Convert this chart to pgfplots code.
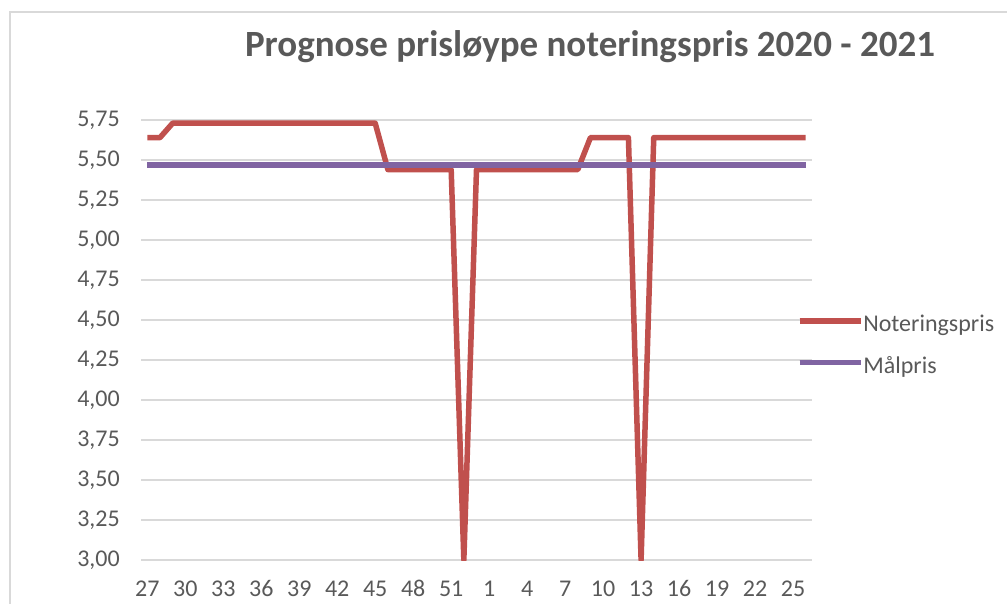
\documentclass[border=0pt]{standalone}
\usepackage{fontspec}
\setmainfont{Carlito}
\usepackage{pgfplots}
\pgfplotsset{compat=1.18}
\definecolor{nred}{RGB}{192,80,77}
\definecolor{mpurple}{RGB}{128,100,162}
\definecolor{txtgray}{RGB}{89,89,89}
\definecolor{gridgray}{RGB}{217,217,217}
\begin{document}
\begin{tikzpicture}[x=1pt,y=1pt]
\useasboundingbox (0,0) rectangle (1007,603);
\draw[gridgray, line width=2pt] (10,-2) -- (10,591) -- (1009,591);
\node[anchor=base, text=txtgray, font=\fontsize{37}{42}\selectfont\bfseries] at (590,546) {Prognose prisløype noteringspris 2020 - 2021};
\begin{axis}[
  at={(141pt,43pt)}, anchor=south west,
  scale only axis, width=671pt, height=440pt,
  xmin=-0.5, xmax=52.5, ymin=3, ymax=5.75,
  ytick={3,3.25,3.5,3.75,4,4.25,4.5,4.75,5,5.25,5.5,5.75},
  xtick={0,3,6,9,12,15,18,21,24,27,30,33,36,39,42,45,48,51},
  xticklabels={27,30,33,36,39,42,45,48,51,1,4,7,10,13,16,19,22,25},
  axis line style={draw=none},
  major tick length=0pt,
  ymajorgrids, grid style={gridgray, line width=1.6pt},
  tick label style={text=txtgray, font=\fontsize{24}{28}\selectfont},
  yticklabel style={inner sep=0pt, xshift=-21pt, /pgf/number format/.cd, fixed, fixed zerofill, precision=2, use comma, assume math mode=true},
  xticklabel style={inner sep=0pt, text height=16pt, text depth=0pt, anchor=north, yshift=-20pt},
  legend style={draw=none, fill=none, at={(0.977,0.557)}, anchor=north west, inner sep=0pt,
    row sep=23pt, font=\fontsize{24}{28}\selectfont, text=txtgray,
    nodes={inner sep=0pt}},
  legend cell align=left,
  legend image code/.code={\draw[#1, line width=5.5pt] (0pt,0.3em) -- (56pt,0.3em);
    \path (0pt,0.3em) -- (61pt,0.3em);},
]
\addplot[nred, line width=5.5pt, line join=round] coordinates {
(0,5.64) (1,5.64) (2,5.73) (3,5.73) (4,5.73) (5,5.73) (6,5.73) (7,5.73) (8,5.73) (9,5.73)
(10,5.73) (11,5.73) (12,5.73) (13,5.73) (14,5.73) (15,5.73) (16,5.73) (17,5.73) (18,5.73)
(19,5.44) (20,5.44) (21,5.44) (22,5.44) (23,5.44) (24,5.44) (25,3.00) (26,5.44) (27,5.44)
(28,5.44) (29,5.44) (30,5.44) (31,5.44) (32,5.44) (33,5.44) (34,5.44) (35,5.64) (36,5.64)
(37,5.64) (38,5.64) (39,3.00) (40,5.64) (41,5.64) (42,5.64) (43,5.64) (44,5.64) (45,5.64)
(46,5.64) (47,5.64) (48,5.64) (49,5.64) (50,5.64) (51,5.64) (52,5.64)};
\addlegendentry{Noteringspris}
\addplot[mpurple, line width=5.5pt, line join=round] coordinates {
(0,5.47) (1,5.47) (2,5.47) (3,5.47) (4,5.47) (5,5.47) (6,5.47) (7,5.47) (8,5.47) (9,5.47)
(10,5.47) (11,5.47) (12,5.47) (13,5.47) (14,5.47) (15,5.47) (16,5.47) (17,5.47) (18,5.47)
(19,5.47) (20,5.47) (21,5.47) (22,5.47) (23,5.47) (24,5.47) (25,5.47) (26,5.47) (27,5.47)
(28,5.47) (29,5.47) (30,5.47) (31,5.47) (32,5.47) (33,5.47) (34,5.47) (35,5.47) (36,5.47)
(37,5.47) (38,5.47) (39,5.47) (40,5.47) (41,5.47) (42,5.47) (43,5.47) (44,5.47) (45,5.47)
(46,5.47) (47,5.47) (48,5.47) (49,5.47) (50,5.47) (51,5.47) (52,5.47)};
\addlegendentry{Målpris}
\end{axis}
\end{tikzpicture}
\end{document}
